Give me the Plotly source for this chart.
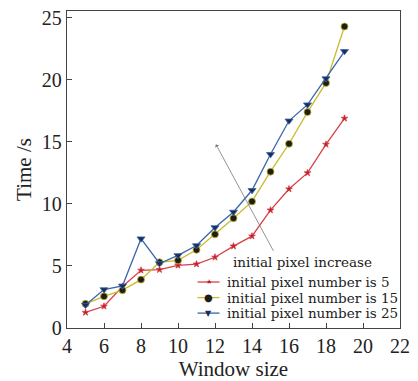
import plotly.graph_objects as go

window = [5, 6, 7, 8, 9, 10, 11, 12, 13, 14, 15, 16, 17, 18, 19]
time_p5 = [1.25, 1.75, 3.35, 4.65, 4.7, 5.05, 5.15, 5.7, 6.6, 7.4, 9.5, 11.2, 12.5, 14.8, 16.9]
time_p15 = [1.95, 2.55, 3.05, 3.9, 5.3, 5.45, 6.3, 7.55, 8.85, 10.2, 12.6, 14.85, 17.4, 19.75, 24.3]
time_p25 = [1.85, 3.1, 3.4, 7.2, 5.2, 5.85, 6.65, 8.1, 9.35, 11.1, 14.0, 16.7, 18.0, 20.1, 22.3]

labels = ["initial pixel number is 5", "initial pixel number is 15", "initial pixel number is 25"]
x_ticks = [4, 6, 8, 10, 12, 14, 16, 18, 20, 22]
y_ticks = [0, 5, 10, 15, 20, 25]

FONT = "Liberation Serif"
TXT_FONT = "DejaVu Serif"
line_cols = ["#d83f48", "#c8bb2e", "#3a65a8"]
mk_cols = ["#b8202c", "#1e1e14", "#1c2d5a"]
symbols = ["star", "circle", "triangle-down"]
sizes = [5, 7, 7]
glyphs = ["★", "●", "▼"]
glyph_sizes = [7, 10, 8]

fig = go.Figure()
for ys, c, mc, s, sz, name in zip([time_p5, time_p15, time_p25], line_cols, mk_cols, symbols, sizes, labels):
    fig.add_trace(go.Scatter(
        x=window, y=ys, mode="lines+markers", name=name,
        line=dict(color=c, width=1.3),
        marker=dict(symbol=s, size=sz, color=mc, line=dict(color=c, width=0.8)),
        showlegend=False,
    ))

# custom compact legend
leg_y = [0.145, 0.096, 0.047]
for i, name in enumerate(labels):
    fig.add_shape(type="line", xref="paper", yref="paper",
                  x0=0.392, x1=0.458, y0=leg_y[i], y1=leg_y[i],
                  line=dict(color=line_cols[i], width=1.3))
    fig.add_annotation(xref="paper", yref="paper", x=0.425, y=leg_y[i],
                       text=glyphs[i], showarrow=False,
                       font=dict(family="DejaVu Sans", size=glyph_sizes[i], color=mk_cols[i]),
                       xanchor="center", yanchor="middle")
    fig.add_annotation(xref="paper", yref="paper", x=0.473, y=leg_y[i],
                       text=name, showarrow=False,
                       font=dict(family=TXT_FONT, size=13.5, color="#222"),
                       xanchor="left", yanchor="middle")

# arrow
fig.add_annotation(x=12.05, y=14.8, ax=15.2, ay=6.1, axref="x", ayref="y",
                   xref="x", yref="y", text="", showarrow=True,
                   arrowhead=1, arrowsize=1, arrowwidth=0.8, arrowcolor="#777")
fig.add_annotation(x=16.75, y=5.35, xref="x", yref="y", text="initial pixel increase",
                   showarrow=False, font=dict(family=TXT_FONT, size=13.5, color="#222"))

fig.update_layout(
    width=418, height=381,
    margin=dict(l=67, r=18, t=7, b=48),
    plot_bgcolor="white", paper_bgcolor="white",
    font=dict(family=FONT, color="#222"),
)
fig.update_xaxes(range=[4, 22], tickvals=x_ticks, ticks="inside", ticklen=5,
                 tickcolor="#444", showline=True, linecolor="#444", linewidth=1.3,
                 mirror=True, showgrid=False, zeroline=False,
                 tickfont=dict(size=20, family=FONT),
                 title=dict(text="Window size", font=dict(size=21, family=FONT), standoff=2))
fig.update_yaxes(range=[0, 25.55], tickvals=y_ticks, ticks="inside", ticklen=5,
                 tickcolor="#444", showline=True, linecolor="#444", linewidth=1.3,
                 mirror=True, showgrid=False, zeroline=False,
                 tickfont=dict(size=20, family=FONT),
                 title=dict(text="Time /s", font=dict(size=21, family=FONT), standoff=4))

fig.write_html("out.html")
